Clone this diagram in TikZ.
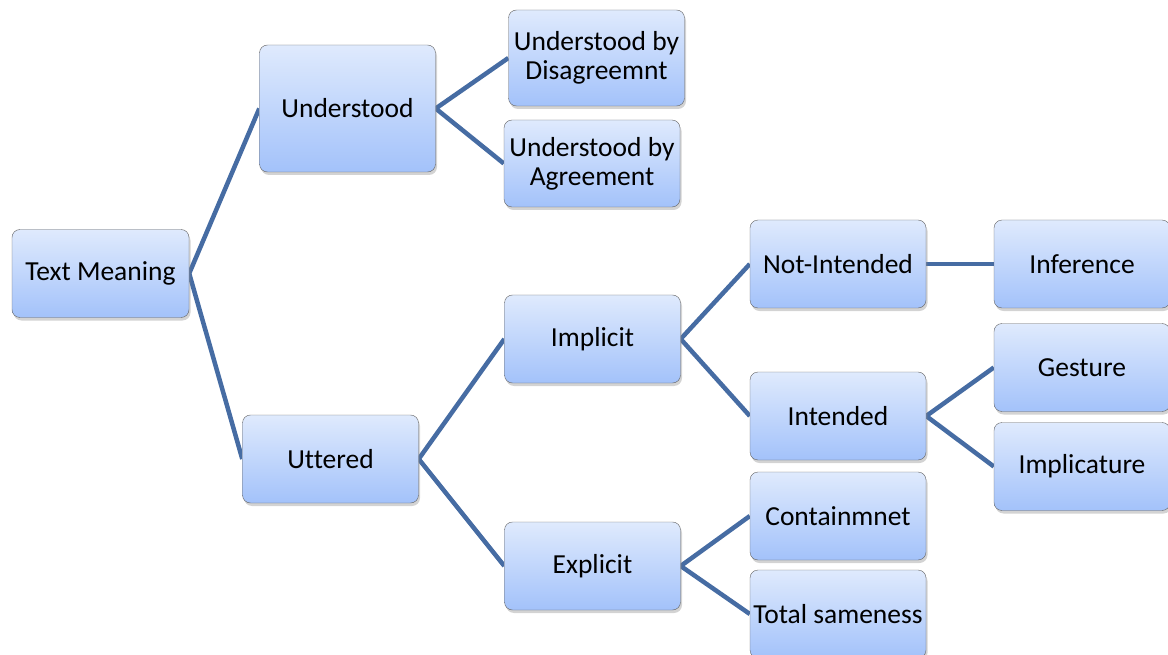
\documentclass[tikz,border=0pt]{standalone}
\usepackage{fontspec}
\setmainfont{Carlito}[Ligatures=NoCommon]
\usetikzlibrary{shadows, backgrounds}
\definecolor{linkblue}{RGB}{70,108,163}
\definecolor{boxtop}{RGB}{223,234,253}
\definecolor{boxbottom}{RGB}{163,194,250}
\definecolor{boxedge}{RGB}{100,100,100}

\begin{document}
\begin{tikzpicture}
  [x=1pt, y=-1pt,
   box/.style={rectangle, rounded corners=8pt, draw=boxedge, thin,
     top color=boxtop, bottom color=boxbottom,
     minimum width=176pt, minimum height=88pt, inner sep=2pt, align=center,
     font=\fontsize{27.5}{29}\selectfont,
     drop shadow={opacity=0.35, shadow xshift=1.5pt, shadow yshift=-3pt}},
   link/.style={draw=linkblue, line width=4.5pt}]
  \useasboundingbox (0,0) rectangle (1168,655);
  \node (mean) at (100.5,273.5) [box, minimum width=177pt] {Text Meaning};
  \node (und) at (347.5,108.5) [box, minimum height=127pt] {Understood};
  \node (dis) at (596.5,58) [box, minimum height=96pt] {Understood by\\Disagreemnt};
  \node (agr) at (592,163.5) [box, minimum height=87pt] {Understood by\\Agreement};
  \node (utt) at (330.5,459) [box] {Uttered};
  \node (impl) at (592.5,339) [box] {Implicit};
  \node (expl) at (592.5,566) [box] {Explicit};
  \node (noti) at (838,264) [box] {Not-Intended};
  \node (inte) at (838,416) [box] {Intended};
  \node (cont) at (838,516) [box] {Containmnet};
  \node (same) at (838,614) [box] {Total sameness};
  \node (infe) at (1082,264) [box] {Inference};
  \node (gest) at (1082,367.5) [box] {Gesture};
  \node (impc) at (1082,466.5) [box] {Implicature};
  \begin{scope}[on background layer]
    \foreach \up/\from/\down in {und/mean/utt, dis/und/agr, impl/utt/expl,
      noti/impl/inte, gest/inte/impc, cont/expl/same}{
      \draw [link] (\up.west) -- (\from.east) -- (\down.west);
    }
    \draw [link] (noti.east) -- (infe.west);
  \end{scope}
\end{tikzpicture}
\end{document}
